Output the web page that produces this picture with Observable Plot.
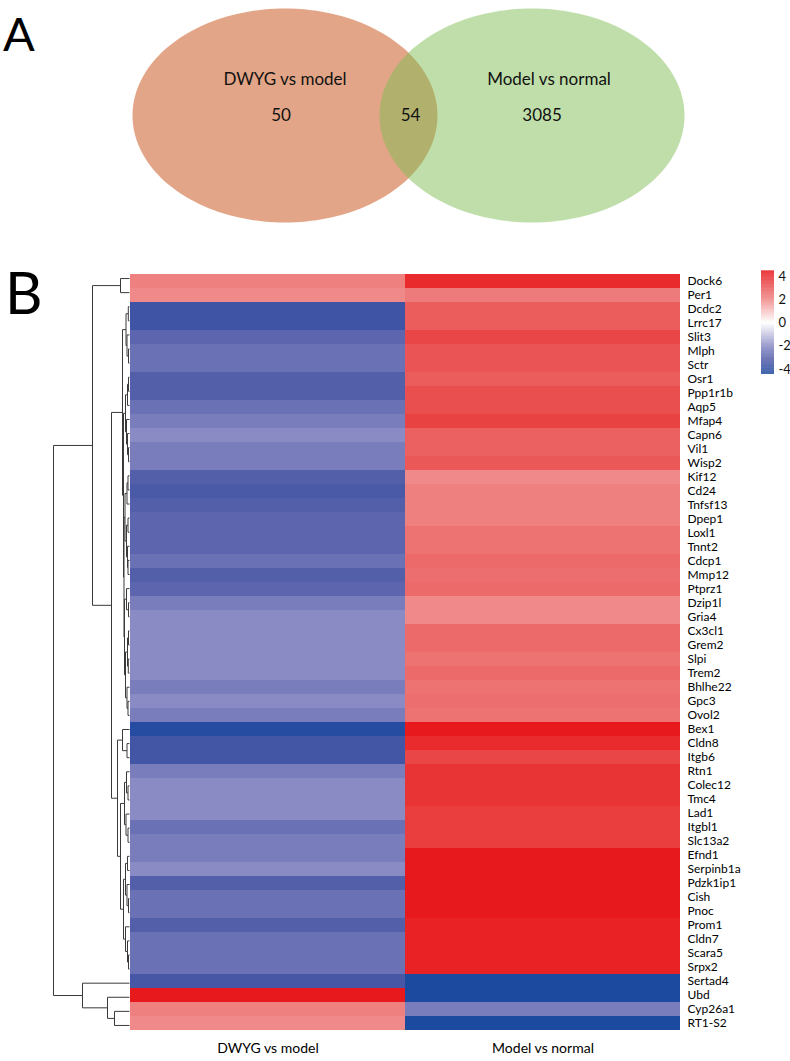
<!DOCTYPE html>
<html><head><meta charset="utf-8">
<script src="https://cdn.jsdelivr.net/npm/d3@7"></script>
<script src="https://cdn.jsdelivr.net/npm/@observablehq/plot@0.6"></script>
<style>
body{margin:0;background:#fff;}
#wrap{position:relative;width:790px;height:1061px;overflow:hidden;font-family:Lato,sans-serif;}
#wrap svg{position:absolute;left:0;top:0;}
.panel{position:absolute;font-family:Lato,sans-serif;line-height:1;color:#000;}
</style></head>
<body><div id="wrap"></div>
<script>
// ---------- data ----------
const vennSets = ["DWYG vs model", "Model vs normal"];
const vennOnly = [50, 3085];
const vennOverlap = 54;

const columns = ["DWYG vs model", "Model vs normal"];
const genes = ["Dock6","Per1","Dcdc2","Lrrc17","Slit3","Mlph","Sctr","Osr1","Ppp1r1b","Aqp5",
  "Mfap4","Capn6","Vil1","Wisp2","Kif12","Cd24","Tnfsf13","Dpep1","Loxl1","Tnnt2",
  "Cdcp1","Mmp12","Ptprz1","Dzip1l","Gria4","Cx3cl1","Grem2","Slpi","Trem2","Bhlhe22",
  "Gpc3","Ovol2","Bex1","Cldn8","Itgb6","Rtn1","Colec12","Tmc4","Lad1","Itgbl1",
  "Slc13a2","Efnd1","Serpinb1a","Pdzk1ip1","Cish","Pnoc","Prom1","Cldn7","Scara5","Srpx2",
  "Sertad4","Ubd","Cyp26a1","RT1-S2"];
const dwygVsModel = [2.1, 1.9, -3.6, -3.6, -2.9, -2.6, -2.6, -3.1, -3.1, -2.6,
  -2.3, -2.0, -2.3, -2.3, -3.1, -3.3, -3.1, -2.9, -2.9, -2.9,
  -2.6, -3.1, -2.9, -2.3, -2.0, -2.0, -2.0, -2.0, -2.0, -2.3,
  -2.0, -2.3, -4.2, -3.5, -3.5, -2.3, -2.0, -2.0, -2.0, -2.6,
  -2.3, -2.3, -2.0, -3.1, -2.6, -2.6, -3.1, -2.6, -2.6, -2.6,
  -3.4, 4.4, 2.1, 1.9];
const modelVsNormal = [4.0, 2.2, 2.9, 2.9, 3.4, 3.1, 3.1, 2.9, 3.2, 3.2,
  3.5, 2.8, 2.8, 3.0, 1.9, 2.1, 2.1, 2.1, 2.4, 2.4,
  2.6, 2.5, 2.6, 1.9, 1.9, 2.6, 2.6, 2.4, 2.6, 2.4,
  2.5, 2.4, 4.4, 4.0, 3.4, 3.8, 3.8, 3.8, 3.6, 3.6,
  3.6, 4.4, 4.4, 4.4, 4.4, 4.4, 4.2, 4.2, 4.2, 4.2,
  -4.4, -4.4, -2.3, -4.4];

const legendTicks = [4, 2, 0, -2, -4];
const colorStops = [-4.4, -3.5, -3, -2.5, -2, 0, 2, 3, 4.4];
const colorRange = ["#1c4a9e","#4355a5","#5861ab","#6e75b7","#8a8ac4","#ffffff","#ef8484","#ea5858","#e8191c"];

// row clustering: [merge height, left, right]; leaves are row indices
const treeB1 = [3.5, [1.2, 2, 3], [2.5, 4, [1, 5, 6]]];
const treeB2a = [4, [2, [1, 7, 8], 9], [3, 10, [2, 11, [1, 12, 13]]]];
const treeB2b = [5.5, [4.5, [2.5, [1.5, 14, 15], 16], [3, [1.5, 17, 18], [2, 19, [1.5, 20, 21]]]],
                 [5, [3, 22, [1, 23, 24]], [4, [2, [1, 25, 26], [1.2, 27, 28]], [2.5, 29, [1.5, 30, 31]]]]];
const treeC1 = [7, 32, [2.5, 33, 34]];
const treeC2 = [9, [5, [3, 35, [1.5, 36, 37]], [3.5, 38, [1.5, 39, 40]]],
                [6, [4, [2, 41, 42], [2.5, 43, [1, 44, 45]]], [4, 46, [2, 47, [1, 48, 49]]]]];
const treeBottom = [47, 50, [22, 51, [15, 52, 53]]];
const tree = [76, [37, [9, 0, 1], [18, [7, treeB1, [6, treeB2a, treeB2b]], [12, treeC1, treeC2]]], treeBottom];

// ---------- layout ----------
const wrap = document.getElementById("wrap");
const font = "Lato, sans-serif";

// Venn
const sep = 0.81;
const shapes = [{name: vennSets[0], cx: -sep}, {name: vennSets[1], cx: sep}];
const angles = d3.range(0, 360, 2).map(a => a * Math.PI / 180);
const outline = s => angles.map(t => ({x: s.cx + Math.cos(t), y: Math.sin(t)}));
const venn = Plot.plot({
  width: 790, height: 240, margin: 0,
  x: {domain: [-1.81, 1.81], range: [132, 684], axis: null},
  y: {domain: [-1, 1], range: [222, 8], axis: null},
  style: {fontFamily: font, background: "transparent", color: "#000"},
  marks: [
    Plot.line(outline(shapes[0]), {x: "x", y: "y", curve: "linear-closed", fill: "#c74b0f", fillOpacity: 0.5, stroke: "none"}),
    Plot.line(outline(shapes[1]), {x: "x", y: "y", curve: "linear-closed", fill: "#7fbd53", fillOpacity: 0.5, stroke: "none"}),
    Plot.text([shapes[0]], {x: "cx", y: () => 0.34, text: "name", fontSize: 17, fill: "#111"}),
    Plot.text([shapes[1]], {x: "cx", y: () => 0.34, text: "name", fontSize: 17, dx: 17, fill: "#111"}),
    Plot.text([vennOnly[0]], {x: () => -sep, y: () => 0, text: d => String(d), fontSize: 17, dx: -4, fill: "#111"}),
    Plot.text([vennOnly[1]], {x: () => sep, y: () => 0, text: d => String(d), fontSize: 17, dx: 10, fill: "#111"}),
    Plot.text([vennOverlap], {x: () => 0, y: () => 0, text: d => String(d), fontSize: 17, dx: 2, fill: "#111"})
  ]
});
wrap.appendChild(venn);

// Heatmap
const cells = genes.flatMap((g, i) => [
  {gene: g, col: columns[0], v: dwygVsModel[i]},
  {gene: g, col: columns[1], v: modelVsNormal[i]}
]);
const colorOpts = {type: "linear", domain: colorStops, range: colorRange, interpolate: "rgb"};
const heat = Plot.plot({
  width: 790, height: 1061,
  marginTop: 271, marginBottom: 29, marginLeft: 129, marginRight: 110,
  x: {domain: columns, padding: 0, axis: null},
  y: {domain: genes, padding: 0, axis: null},
  color: colorOpts,
  style: {fontFamily: font, background: "transparent", color: "#000"},
  marks: [
    Plot.cell(cells, {x: "col", y: "gene", fill: "v", inset: 0}),
    Plot.axisY({anchor: "right", tickSize: 0, tickPadding: 7, fontSize: 12, label: null}),
    Plot.axisX({anchor: "bottom", tickSize: 0, tickPadding: 11, fontSize: 14, label: null})
  ]
});
wrap.appendChild(heat);

// Dendrogram
const segs = [];
function walk(node) {
  if (typeof node === "number") return {h: 0, y: node + 0.5};
  const [h, a, b] = node;
  const A = walk(a), B = walk(b);
  segs.push({x1: A.h, x2: h, y1: A.y, y2: A.y});
  segs.push({x1: B.h, x2: h, y1: B.y, y2: B.y});
  segs.push({x1: h, x2: h, y1: A.y, y2: B.y});
  return {h, y: (A.y + B.y) / 2};
}
walk(tree);
const dendro = Plot.plot({
  width: 790, height: 1061, margin: 0,
  x: {domain: [76, 0], range: [53, 129], axis: null},
  y: {domain: [0, genes.length], range: [271, 1032], axis: null},
  style: {background: "transparent"},
  marks: [Plot.link(segs, {x1: "x1", y1: "y1", x2: "x2", y2: "y2", stroke: "#3a3a3a", strokeWidth: 1})]
});
wrap.appendChild(dendro);

// Colour legend
const step = 0.05;
const ramp = d3.range(-4.43, 4.43, step);
const legend = Plot.plot({
  width: 790, height: 400, margin: 0,
  x: {domain: [0, 1], range: [761, 774], axis: null},
  y: {domain: [-4.43, 4.43], range: [374, 271], axis: null},
  color: colorOpts,
  style: {fontFamily: font, background: "transparent", color: "#000"},
  marks: [
    Plot.rect(ramp, {x1: () => 0, x2: () => 1, y1: d => d, y2: d => d + step + 0.01, fill: d => d + step / 2}),
    Plot.text(legendTicks, {x: () => 1, y: d => d, text: d => String(d), dx: 4, textAnchor: "start", fontSize: 13, fill: "#111"})
  ]
});
wrap.appendChild(legend);

// Panel letters
const A = document.createElement("div");
A.className = "panel"; A.textContent = "A";
A.style.cssText = "left:3px;top:10px;font-size:47px;";
wrap.appendChild(A);
const B = document.createElement("div");
B.className = "panel"; B.textContent = "B";
B.style.cssText = "left:5px;top:263px;font-size:58px;";
wrap.appendChild(B);
</script>
</body></html>
